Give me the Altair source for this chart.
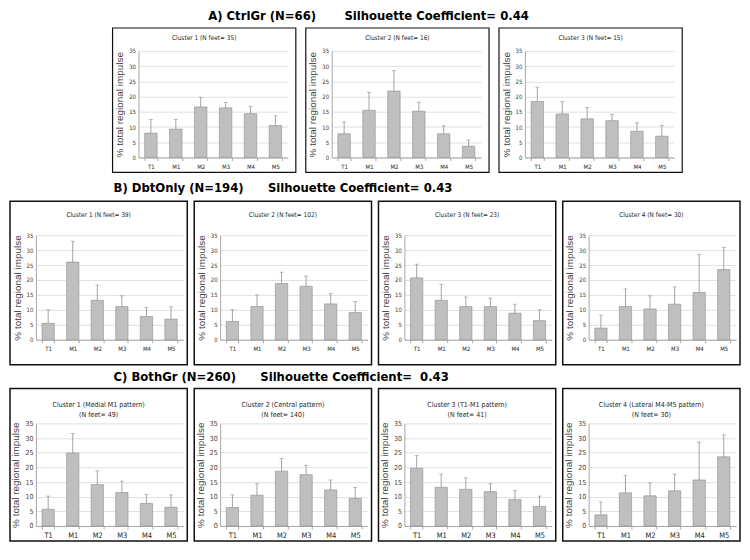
import altair as alt
import pandas as pd

NARROW = "Liberation Sans Narrow, DejaVu Sans Condensed, Arial Narrow, sans-serif"
SANS = "Liberation Sans, Arial, sans-serif"
NB = "\u00a0"

regions = ["T1", "M1", "M2", "M3", "M4", "M5"]

# Row A: CtrlGr
a_row_title = "A) CtrlGr (N=66)" + NB * 7 + "Silhouette Coefficient= 0.44"
a_titles = ["Cluster 1  (N feet= 35)", "Cluster 2  (N feet= 16)", "Cluster 3  (N feet= 15)"]
a_means = [
    [8.0, 9.3, 16.6, 16.3, 14.4, 10.5],
    [7.8, 15.5, 21.8, 15.2, 7.8, 3.7],
    [18.4, 14.3, 12.7, 12.1, 8.6, 7.0],
]
a_sds = [
    [4.5, 3.2, 3.2, 1.8, 2.3, 3.2],
    [3.9, 5.9, 6.7, 3.0, 2.6, 2.0],
    [4.7, 4.1, 3.7, 2.0, 2.8, 3.5],
]

# Row B: DbtOnly
b_row_title = "B) DbtOnly (N=194)" + NB * 6 + "Silhouette Coefficient= 0.43"
b_titles = ["Cluster 1  (N feet= 39)", "Cluster 2  (N feet= 102)", "Cluster 3  (N feet= 23)", "Cluster 4  (N feet= 30)"]
b_means = [
    [5.5, 26.0, 13.2, 11.1, 7.8, 6.9],
    [6.1, 11.1, 18.8, 17.9, 12.0, 9.1],
    [20.7, 13.2, 11.1, 11.1, 8.9, 6.4],
    [3.9, 11.1, 10.3, 11.9, 15.8, 23.5],
]
b_sds = [
    [4.5, 7.0, 5.1, 3.6, 3.0, 4.1],
    [3.9, 3.9, 3.8, 3.4, 3.4, 3.7],
    [4.6, 5.4, 3.2, 2.8, 3.0, 3.6],
    [4.3, 5.9, 4.4, 5.8, 12.8, 7.4],
]

# Row C: BothGr
c_row_title = "C) BothGr (N=260)" + NB * 6 + "Silhouette Coefficient=" + NB * 2 + "0.43"
c_titles = [
    ["Cluster 1 (Medial M1 pattern)", "(N feet= 49)"],
    ["Cluster 2 (Central pattern)", "(N feet= 140)"],
    ["Cluster 3 (T1-M1 pattern)", "(N feet= 41)"],
    ["Cluster 4 (Lateral M4-M5 pattern)", "(N feet= 30)"],
]
c_means = [
    [5.7, 24.9, 14.1, 11.4, 7.7, 6.4],
    [6.3, 10.5, 18.7, 17.5, 12.3, 9.4],
    [19.7, 13.2, 12.5, 11.7, 9.0, 6.7],
    [3.8, 11.3, 10.3, 12.0, 15.7, 23.6],
]
c_sds = [
    [4.5, 6.7, 4.7, 3.9, 3.0, 4.2],
    [4.3, 3.9, 4.3, 3.2, 3.4, 3.7],
    [4.4, 4.5, 3.9, 2.7, 3.1, 3.5],
    [4.4, 5.9, 4.4, 5.7, 12.9, 7.5],
]

y_ticks = [0, 5, 10, 15, 20, 25, 30, 35]
YTITLE = "% total regional impulse"


def panel(title, means, sds, W, H, L, R, T, B, title_y, title_size,
          xlab_size, ylab_size, frame_w, line_h=10, row_text=None, row_x=0, row_y=0):
    df = pd.DataFrame({"region": regions, "mean": means, "sd": sds})
    df["top"] = df["mean"] + df["sd"]
    xscale = alt.Scale(domain=regions, paddingInner=0.5, paddingOuter=0.25)
    xaxis = alt.Axis(labelAngle=0, labelFontSize=xlab_size, labelFont=NARROW,
                     labelColor="#262626", ticks=True, tickBand="extent",
                     tickSize=3, tickColor="#a6a6a6", domainColor="#a6a6a6",
                     labelPadding=3, grid=False)
    yscale = alt.Scale(domain=[0, 35], nice=False)
    yaxis = alt.Axis(values=y_ticks, labelFontSize=ylab_size, labelFont=NARROW,
                     labelColor="#404040", grid=True, gridColor="#d9d9d9",
                     gridWidth=0.8, domainColor="#a6a6a6", ticks=False,
                     labelPadding=3, labelOverlap=False, titleFontSize=10,
                     titleFont=SANS, titleFontWeight="normal",
                     titleColor="#404040", titlePadding=4)
    xenc = alt.X("region:N", title=None, scale=xscale, axis=xaxis)
    base = alt.Chart(df)
    bars = base.mark_bar(fill="#bfbfbf", stroke="#8c8c8c", strokeWidth=0.6).encode(
        x=xenc, y=alt.Y("mean:Q", title=YTITLE, scale=yscale, axis=yaxis))
    rules = base.mark_rule(color="#8c8c8c", strokeWidth=0.8).encode(
        x=xenc, y=alt.Y("mean:Q", title=YTITLE, scale=yscale, axis=yaxis),
        y2="top:Q")
    caps = base.mark_tick(color="#8c8c8c", thickness=0.8, size=4).encode(
        x=xenc, y=alt.Y("top:Q", title=YTITLE, scale=yscale, axis=yaxis))
    one = pd.DataFrame({"k": [0]})
    frame = alt.Chart(one).mark_rect(filled=False, stroke="#111111",
                                     strokeWidth=frame_w).encode(
        x=alt.value(-L), x2=alt.value(W + R), y=alt.value(-T), y2=alt.value(H + B))
    ttl = alt.Chart(one).mark_text(text=title, font=NARROW, fontSize=title_size,
                                   color="#262626", align="center",
                                   baseline="middle", lineHeight=line_h).encode(
        x=alt.value(W / 2 - L / 2 + R / 2), y=alt.value(title_y))
    layers = [bars, rules, caps, frame, ttl]
    if row_text is not None:
        rt = alt.Chart(one).mark_text(text=row_text, font=NARROW, fontSize=13,
                                      fontWeight="bold", color="#000000",
                                      align="left", baseline="middle").encode(
            x=alt.value(row_x), y=alt.value(row_y))
        layers.append(rt)
    return alt.layer(*layers).properties(width=W, height=H)


one0 = pd.DataFrame({"k": [0]})
spacer_l = alt.Chart(one0).mark_point(opacity=0).encode(
    x=alt.value(10), y=alt.value(5)).properties(width=58.25, height=10)
spacer_r = alt.Chart(one0).mark_point(opacity=0).encode(
    x=alt.value(5), y=alt.value(5)).properties(width=20, height=10)

a_panels = []
for i, (t, m, s) in enumerate(zip(a_titles, a_means, a_sds)):
    kw = dict(row_text=a_row_title, row_x=70, row_y=-35) if i == 0 else {}
    a_panels.append(panel(t, m, s, W=150, H=107, L=26, R=8, T=23, B=15,
                          title_y=-13, title_size=6.5, xlab_size=6,
                          ylab_size=6, frame_w=1.2, **kw))
row_a = alt.hconcat(spacer_l, *a_panels, spacer_r, spacing=44, bounds="flush")

b_panels = []
for i, (t, m, s) in enumerate(zip(b_titles, b_means, b_sds)):
    kw = dict(row_text=b_row_title, row_x=78, row_y=-47) if i == 0 else {}
    b_panels.append(panel(t, m, s, W=148, H=105, L=26, R=4, T=34, B=25,
                          title_y=-20, title_size=6.5, xlab_size=6,
                          ylab_size=6, frame_w=1.5, **kw))
row_b = alt.hconcat(*b_panels, spacing=37, bounds="flush")

c_panels = []
for i, (t, m, s) in enumerate(zip(c_titles, c_means, c_sds)):
    kw = dict(row_text=c_row_title, row_x=78, row_y=-47) if i == 0 else {}
    c_panels.append(panel(t, m, s, W=148, H=103, L=26, R=4, T=35, B=15,
                          title_y=-18, title_size=7, xlab_size=7.5,
                          ylab_size=7, frame_w=1.5, line_h=10, **kw))
row_c = alt.hconcat(*c_panels, spacing=37, bounds="flush")

rows_bc = alt.vconcat(row_b, row_c, spacing=3)

chart = alt.vconcat(row_a, rows_bc, spacing=7).properties(
    padding=0
).configure_view(stroke="transparent")

chart.save("out.html", embed_options={"renderer": "svg", "actions": False})
